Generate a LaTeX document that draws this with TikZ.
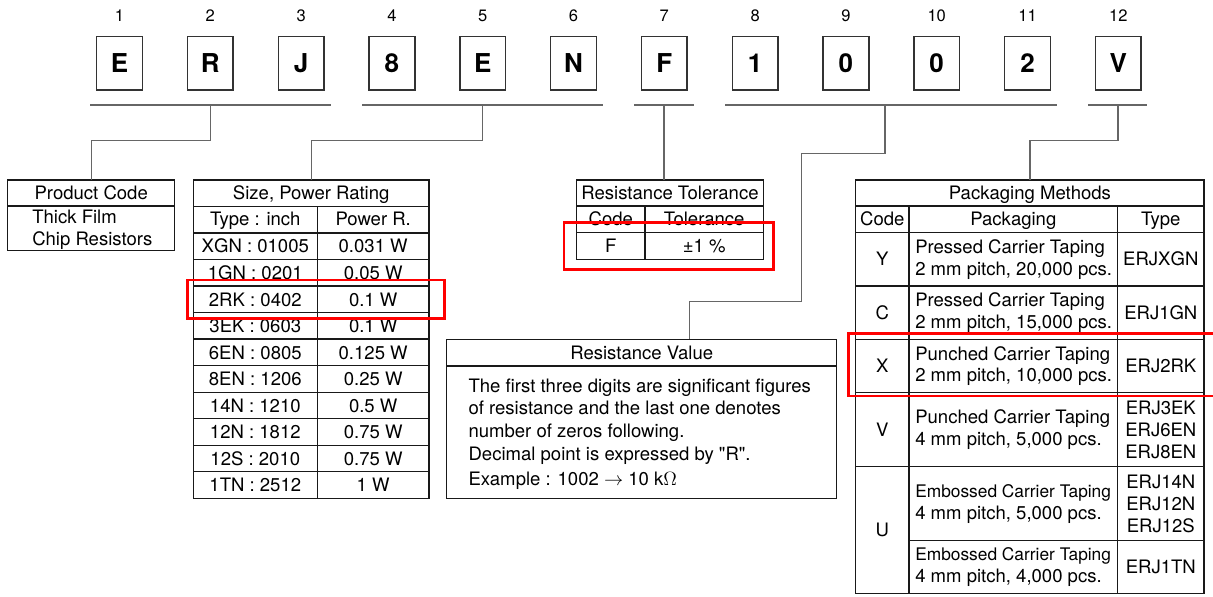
\documentclass[tikz,border=0pt]{standalone}
\usepackage{fontspec}
\setmainfont{TeX Gyre Heros}[Ligatures=TeXOff]
\begin{document}
\begin{tikzpicture}[x=0.75pt,y=-0.75pt,
    digitbox/.style={draw=black!80,line width=1.1pt,minimum width=34.3pt,minimum height=40pt,inner sep=0pt,font=\fontsize{19.5}{22}\selectfont\bfseries},
    numlabel/.style={inner sep=0pt,text height=8.7pt,text depth=0pt,font=\fontsize{12.4}{14}\selectfont},
    bracket/.style={black!60,line width=0.8pt},
    conn/.style={black!60,line width=1pt},
    grid/.style={black!90,line width=1pt},
    txt/.style={inner sep=0pt,text height=10pt,text depth=0pt,font=\fontsize{13.9}{16.7}\selectfont},
    head/.style={txt,minimum height=19.5pt},
    lines/.style={inner sep=0pt,align=left,font=\fontsize{13.9}{16.3}\selectfont},
    hilite/.style={red,line width=2pt}]
    \useasboundingbox (0,0) rectangle (1213,596);

    % Part number
    \foreach \c [count=\i] in {E,R,J,8,E,N,F,1,0,0,2,V} {
        \node[digitbox] (d\i) at ({119.5+(\i-1)*90.8},63.3) {\c};
        \node[numlabel] (n\i) at ({119.5+(\i-1)*90.8},16) {\i};
    }

    % Group brackets
    \draw[bracket] (90,105) -- (331,105);
    \draw[bracket] (362,105) -- (602.6,105);
    \draw[bracket] (634,105) -- (694,105);
    \draw[bracket] (725,105) -- (1057,105);
    \draw[bracket] (1088,105) -- (1147.3,105);
    \coordinate (b1) at (210.3,105);
    \coordinate (b2) at (482.4,105);
    \coordinate (b3) at (664,105);
    \coordinate (b4) at (885,105);
    \coordinate (b5) at (1118,105);

    % Product code
    \draw[grid] (7.7,180) rectangle (174.7,250.7);
    \draw[grid] (7.7,206) -- (174.7,206);
    \node[head] (prodT) at (91.2,193) {Product Code};
    \node[lines,anchor=west] (prodB) at (32,230) {Thick Film\\Chip Resistors};

    % Size, power rating
    \draw[grid] (193.3,180) rectangle (429,498.3);
    \foreach \k in {1,...,11}
        \draw[grid] (193.3,{180+\k*26.525}) -- (429,{180+\k*26.525});
    \draw[grid] (317.3,206.5) -- (317.3,498.3);
    \node[head] (sizeT) at (311.2,193) {Size, Power Rating};
    \node[txt] (sizeA) at (255.3,219.3) {Type : inch};
    \node[txt] (sizeB) at (373.2,219.3) {Power R.};
    \foreach \t/\p [count=\k] in {XGN : 01005/0.031 W,1GN : 0201/0.05 W,2RK : 0402/0.1 W,3EK : 0603/0.1 W,6EN : 0805/0.125 W,8EN : 1206/0.25 W,14N : 1210/0.5 W,12N : 1812/0.75 W,12S : 2010/0.75 W,1TN : 2512/1 W} {
        \node[txt] (st\k) at (255.3,{180+(\k+1.5)*26.525}) {\t};
        \node[txt] (sp\k) at (373.2,{180+(\k+1.5)*26.525}) {\p};
    }

    % Resistance tolerance
    \draw[grid] (576.7,180) rectangle (763.3,259.3);
    \draw[grid] (576.7,206) -- (763.3,206);
    \draw[grid] (576.7,232.7) -- (763.3,232.7);
    \draw[grid] (645,206) -- (645,259.3);
    \node[head] (tolT) at (670,193) {Resistance Tolerance};
    \node[txt] (tolA) at (610.8,219.3) {Code};
    \node[txt] (tolB) at (704.2,219.3) {Tolerance};
    \node[txt] (tolF) at (610.8,246) {F};
    \node[txt] (tolV) at (704.2,246) {±1 \%};

    % Resistance value
    \draw[grid] (446.7,339.3) rectangle (836.7,498.3);
    \draw[grid] (446.7,366) -- (836.7,366);
    \node[head] (resT) at (641.7,352.7) {Resistance Value};
    \node[txt,anchor=west] (res1) at (468.3,386) {The first three digits are significant figures};
    \node[txt,anchor=west] (res2) at (468.3,408.3) {of resistance and the last one denotes};
    \node[txt,anchor=west] (res3) at (468.3,430.7) {number of zeros following.};
    \node[txt,anchor=west] (res4) at (468.3,454) {Decimal point is expressed by "R".};
    \node[txt,anchor=west] (res5) at (468.3,479.3) {Example : 1002 $\rightarrow$ 10 k$\Omega$};

    % Packaging methods
    \draw[grid] (855.7,180) rectangle (1204,593.3);
    \foreach \yy in {206,232.7,286,339.3,392.7,466.7}
        \draw[grid] (855.7,\yy) -- (1204,\yy);
    \draw[grid] (909,540.7) -- (1204,540.7);
    \draw[grid] (909,206) -- (909,593.3);
    \draw[grid] (1117.7,206) -- (1117.7,593.3);
    \node[head] (packT) at (1029.9,193) {Packaging Methods};
    \node[txt] (packA) at (882.3,219.3) {Code};
    \node[txt] (packB) at (1013.3,219.3) {Packaging};
    \node[txt] (packC) at (1160.8,219.3) {Type};
    \node[txt] (cY) at (882.3,259.3) {Y};
    \node[txt] (cC) at (882.3,312.7) {C};
    \node[txt] (cX) at (882.3,366) {X};
    \node[txt] (cV) at (882.3,429.7) {V};
    \node[txt] (cU) at (882.3,530) {U};
    \node[lines,anchor=west] (pY) at (915,259.3) {Pressed Carrier Taping\\2 mm pitch, 20,000 pcs.};
    \node[lines,anchor=west] (pC) at (915,312.7) {Pressed Carrier Taping\\2 mm pitch, 15,000 pcs.};
    \node[lines,anchor=west] (pX) at (915,366) {Punched Carrier Taping\\2 mm pitch, 10,000 pcs.};
    \node[lines,anchor=west] (pV) at (915,429.7) {Punched Carrier Taping\\4 mm pitch, 5,000 pcs.};
    \node[lines,anchor=west] (pU1) at (915,503.7) {{\fontsize{13}{16.3}\selectfont Embossed Carrier Taping}\\4 mm pitch, 5,000 pcs.};
    \node[lines,anchor=west] (pU2) at (915,567) {{\fontsize{13}{16.3}\selectfont Embossed Carrier Taping}\\4 mm pitch, 4,000 pcs.};
    \node[txt] (tY) at (1160.8,259.3) {ERJXGN};
    \node[txt] (tC) at (1160.8,312.7) {ERJ1GN};
    \node[txt] (tX) at (1160.8,366) {ERJ2RK};
    \node[lines,align=center] (tV) at (1160.8,429.7) {ERJ3EK\\ERJ6EN\\ERJ8EN};
    \node[lines,align=center] (tU1) at (1160.8,503.7) {ERJ14N\\ERJ12N\\ERJ12S};
    \node[txt] (tU2) at (1160.8,567) {ERJ1TN};

    % Connectors
    \coordinate (rvin) at (689.3,301.7);
    \draw[conn] (b1) -- ++(0,35.7) -| (prodT.north);
    \draw[conn] (b2) -- ++(0,35.7) -| (sizeT.north);
    \draw[conn] (b3) -- (b3 |- tolT.north);
    \draw[conn] (b4) |- (801.7,153.3) |- (rvin) -- (rvin |- resT.north);
    \draw[conn] (b5) -- ++(0,35.7) -| (packT.north);

    % Highlights
    \draw[hilite] (187.7,280) rectangle (444.3,318.3);
    \draw[hilite] (564,222.7) rectangle (773.3,269.3);
    \draw[hilite] (848.3,333.3) rectangle (1222,396);
\end{tikzpicture}
\end{document}
